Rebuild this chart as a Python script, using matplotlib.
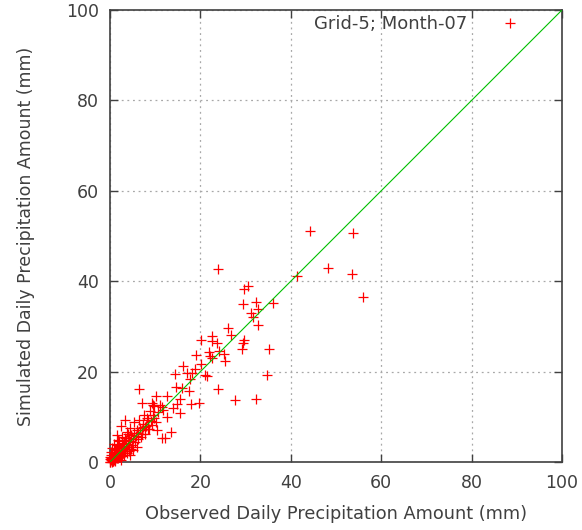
import matplotlib
matplotlib.use("Agg")
import matplotlib.pyplot as plt

observed = [
    44.2, 53.7, 23.8, 48.2, 53.5, 56.0, 41.3, 29.7, 30.6, 29.4, 32.2, 32.7, 31.3, 31.7,
    36.1, 32.7, 26.2, 26.7, 22.5, 22.6, 23.6, 20.1, 29.7, 29.5, 29.1, 35.1, 21.8, 22.2,
    22.6, 24.2, 25.2, 25.4, 19.0, 20.1, 16.1, 18.9, 17.1, 18.1, 21.0, 21.5, 34.7, 17.7,
    17.4, 23.8, 15.5, 27.7, 32.2, 17.9, 19.7, 14.4, 6.5, 14.6, 15.9, 7.0, 10.2, 12.5,
    9.4, 11.1, 14.8, 13.9, 15.5, 11.8, 8.1, 12.5, 12.2, 13.5, 3.3, 5.2, 9.6, 11.4,
    9.6, 10.7, 7.4, 8.5, 4.4, 3.7, 7.7, 10.3, 7.0, 1.8, 2.6, 11.4,
    0.2, 0.4, 0.6, 0.8, 1.0, 1.1, 1.3, 1.5, 1.6, 1.8, 2.0, 2.1, 2.3, 2.5, 2.6, 2.8,
    3.0, 3.1, 3.3, 3.5, 3.6, 3.8, 4.0, 4.1, 4.3, 4.5, 4.7, 4.9, 5.1, 5.3, 5.5, 5.7,
    5.9, 6.1, 6.3, 6.6, 6.8, 7.1, 7.4, 7.7, 8.0, 8.3, 8.6, 9.0, 9.3, 9.7, 10.1,
    0.1, 0.3, 0.5, 0.7, 0.9, 1.2, 1.4, 1.7, 1.9, 2.2, 2.4, 2.7, 2.9, 3.2, 3.4, 3.7,
    3.9, 4.2, 4.4, 4.6, 0.0, 0.2, 0.5, 0.8, 1.0, 1.5, 2.0, 0.3, 0.6, 1.1, 5.0, 6.0,
    6.5, 7.5, 8.8, 9.8, 0.0, 0.1, 0.4, 2.5, 1.5,
]
simulated = [
    51.2, 50.7, 42.6, 42.9, 41.7, 36.6, 41.2, 38.2, 38.9, 34.9, 35.4, 33.8, 33.0, 32.1,
    35.1, 30.2, 29.6, 28.2, 27.9, 26.8, 26.4, 27.1, 27.1, 26.3, 25.1, 25.1, 24.3, 23.4,
    22.9, 24.6, 23.9, 22.4, 23.7, 21.7, 21.2, 20.5, 19.6, 19.6, 19.2, 19.1, 19.3, 18.4,
    15.8, 16.2, 13.9, 13.7, 13.9, 12.8, 13.0, 19.4, 16.1, 16.7, 16.4, 13.0, 14.6, 14.6,
    13.0, 12.6, 12.8, 11.9, 10.8, 11.5, 9.7, 10.0, 5.2, 6.7, 9.3, 8.9, 12.6, 12.2,
    10.4, 11.1, 7.8, 7.2, 7.5, 6.7, 7.8, 7.1, 6.3, 4.9, 5.6, 5.2,
    0.5, 0.2, 1.0, 0.4, 1.3, 0.6, 2.0, 0.9, 1.5, 2.4, 1.2, 3.0, 1.8, 2.6, 3.6, 2.0,
    3.1, 4.2, 2.5, 3.4, 4.8, 2.9, 4.0, 5.4, 3.3, 4.6, 6.0, 3.8, 5.1, 6.4, 4.4, 5.8,
    7.0, 5.0, 6.5, 7.6, 5.6, 7.0, 8.3, 6.2, 8.0, 9.2, 7.3, 9.0, 8.1, 9.8, 8.8,
    0.1, 0.8, 0.0, 0.2, 1.8, 0.3, 2.6, 0.8, 3.3, 1.0, 0.5, 1.4, 4.0, 1.6, 5.2, 2.0,
    6.3, 2.4, 1.5, 2.8, 1.2, 2.2, 3.0, 4.0, 0.8, 3.8, 4.6, 1.6, 0.3, 2.9, 2.6, 3.3,
    9.2, 10.5, 11.2, 12.4, 0.0, 0.6, 0.4, 8.0, 6.0,
]
line_x = [0, 100]
line_y = [0, 100]
ticks = [0, 20, 40, 60, 80, 100]
legend_label = "Grid-5; Month-07"
xlabel = "Observed Daily Precipitation Amount (mm)"
ylabel = "Simulated Daily Precipitation Amount (mm)"

text_color = "#404040"
plt.rcParams["font.family"] = ["DejaVu Sans"]

fig = plt.figure(figsize=(5.82, 5.30), dpi=100)
ax = fig.add_axes([110 / 582, 68 / 530, 452 / 582, 452 / 530])

ax.plot(observed, simulated, linestyle="none", marker="+", color="#ff0000",
        markersize=6.5, markeredgewidth=0.9, clip_on=False, zorder=3, label=legend_label)
ax.plot(line_x, line_y, color="#00c000", linewidth=0.8, zorder=4)

ax.set_xlim(0, 100)
ax.set_ylim(0, 100)
ax.set_xticks(ticks)
ax.set_yticks(ticks)
ax.grid(True, color="#a8a8a8", linestyle=(0, (1.5, 3)), linewidth=0.9)
ax.set_axisbelow(True)
ax.tick_params(direction="in", top=True, right=True, length=6, width=1,
               color="#404040", labelsize=12.5, labelcolor=text_color)
ax.tick_params(axis="x", pad=9)
ax.tick_params(axis="y", pad=8)
for s in ax.spines.values():
    s.set_color("#404040")
    s.set_linewidth(1.2)

ax.set_xlabel(xlabel, fontsize=12.8, color=text_color, labelpad=9)
ax.set_ylabel(ylabel, fontsize=12.5, color=text_color, labelpad=22)

leg = ax.legend(loc="upper right", bbox_to_anchor=(0.92, 1.004), borderaxespad=0,
                frameon=False, fontsize=13, markerfirst=False,
                handlelength=1.0, handletextpad=1.85, labelcolor=text_color)

fig.savefig("out.png", dpi=100)
